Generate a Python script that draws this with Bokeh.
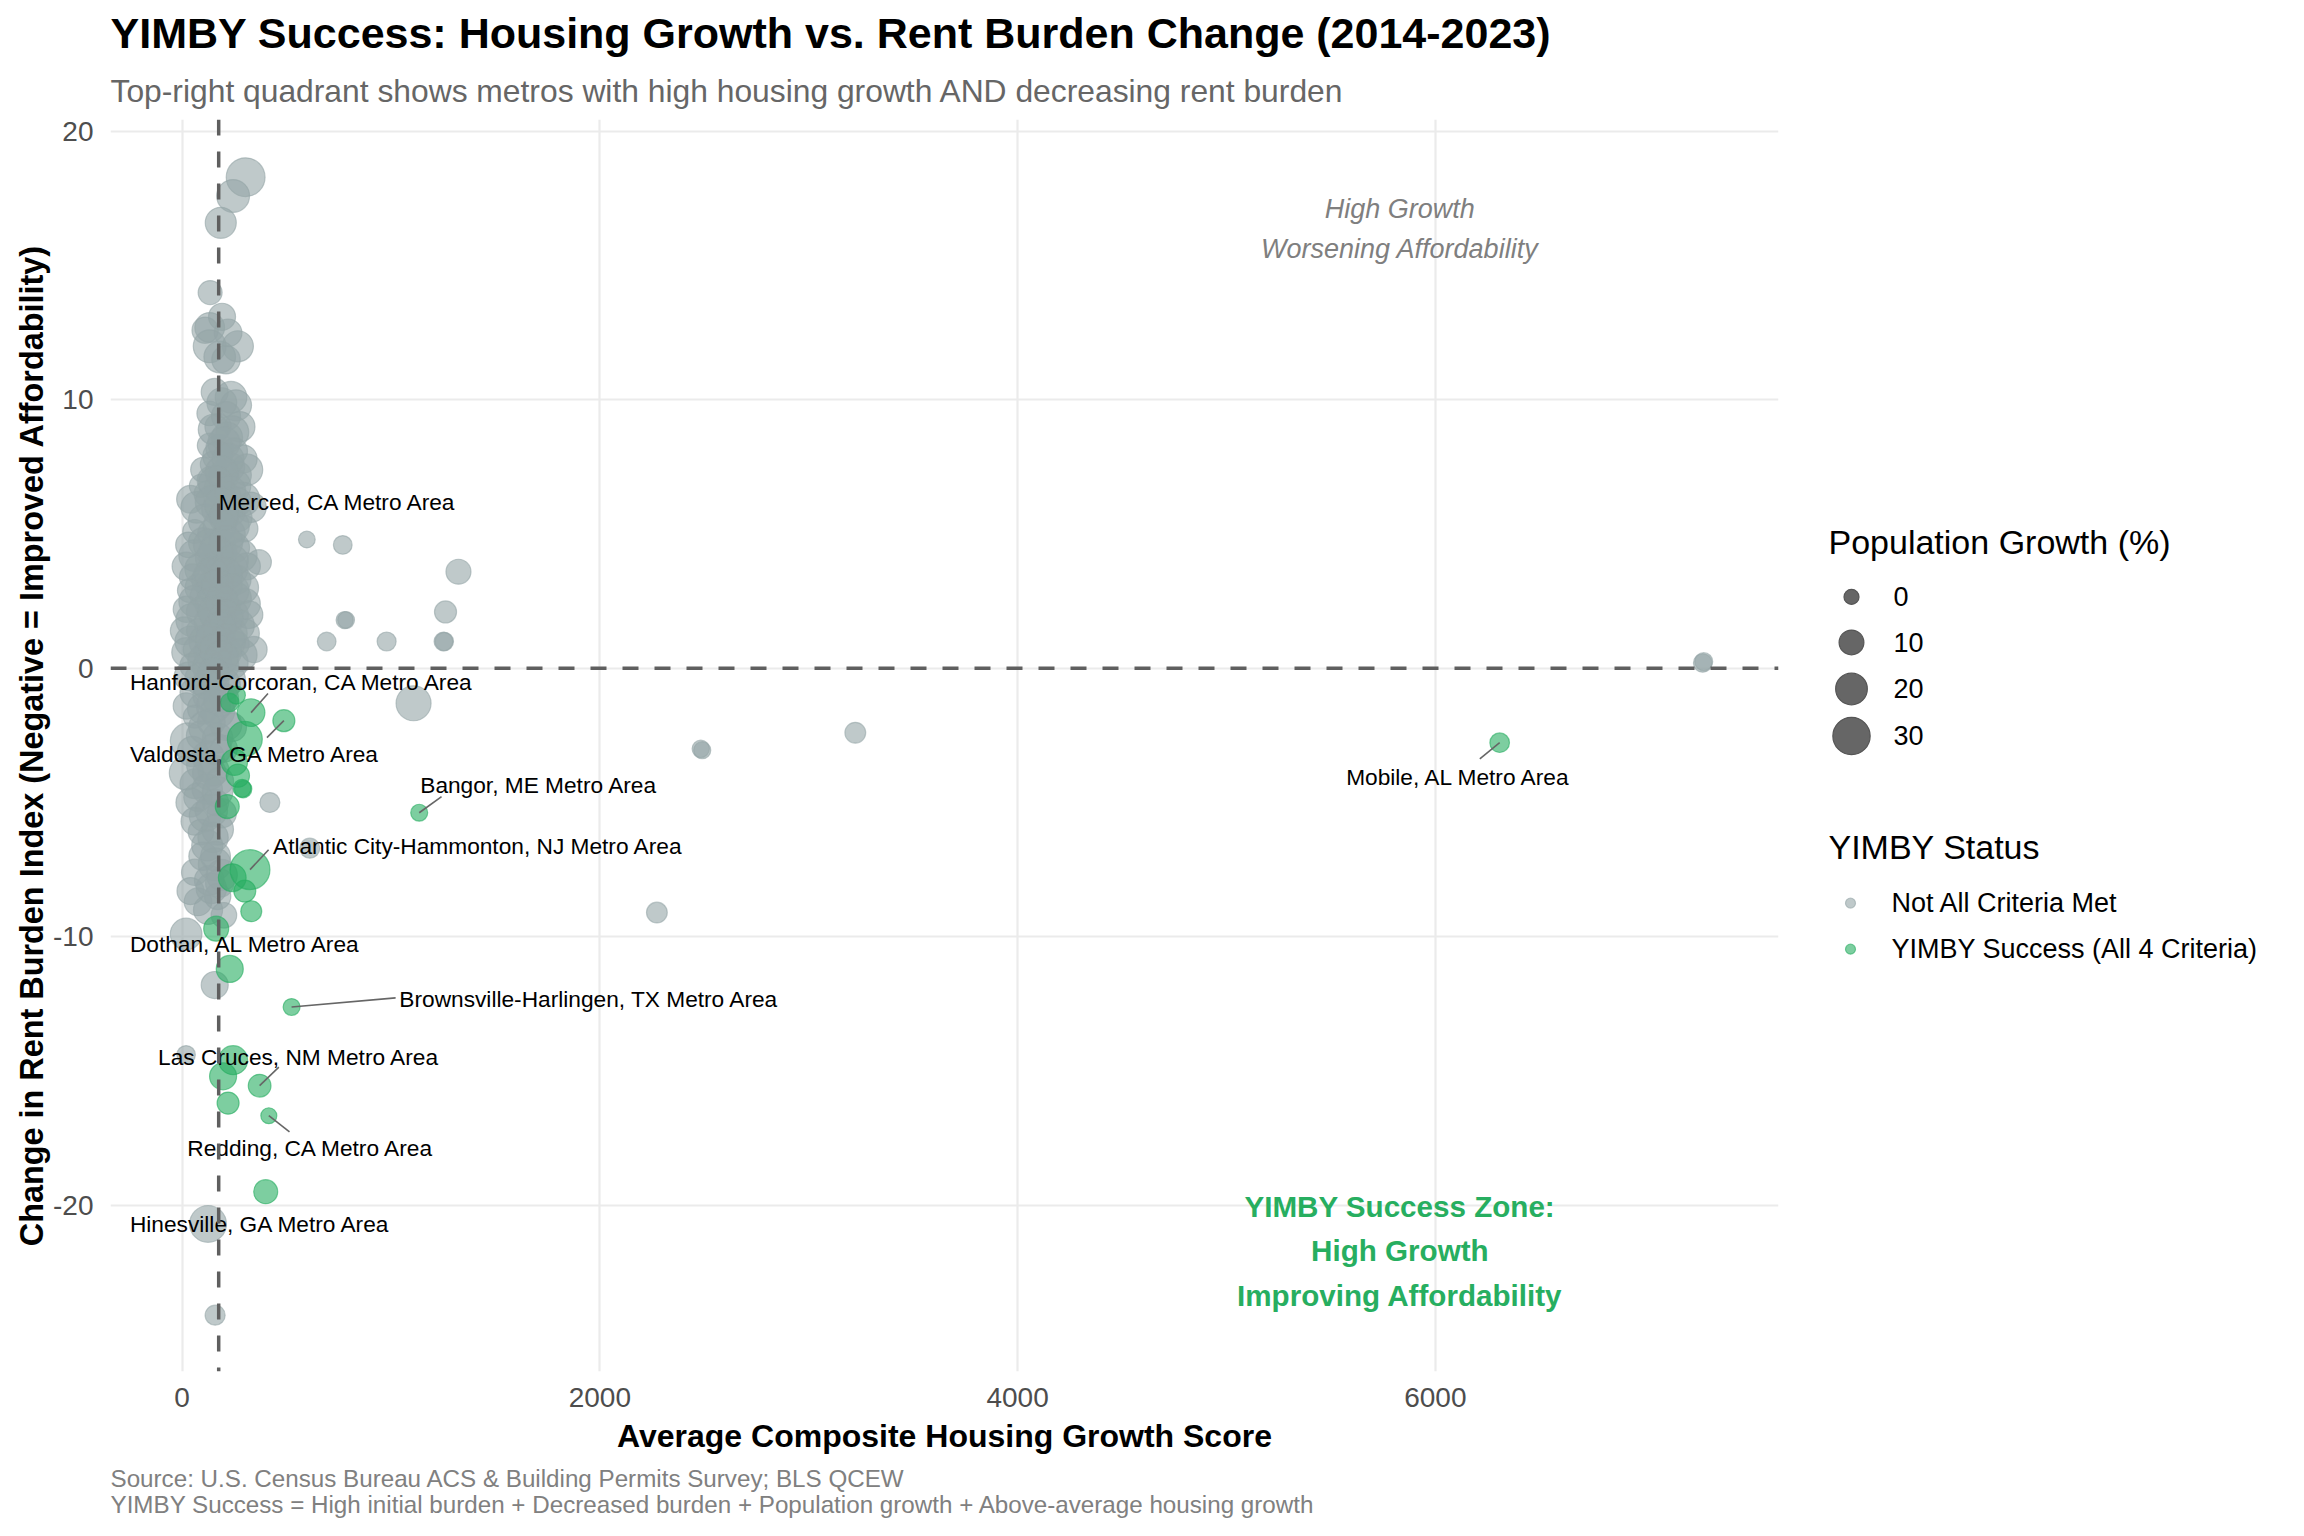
import math
from bokeh.plotting import figure
from bokeh.models import Range1d, FixedTicker, Span, ColumnDataSource, Title
from bokeh.layouts import row
from bokeh.embed import file_html
from bokeh.resources import INLINE
from bokeh.core.properties import value

FONT = "Liberation Sans"
GRAY = "#95A5A6"
GREEN = "#27AE60"

# ---------------- data ----------------
# metros that did not meet all criteria: housing growth score, change in rent burden, population growth %
gray_score = [304, 244, 185, 134, 191, 132, 110, 220, 132, 267, 180, 210,
              156, 234, 258, 190, 210, 130, 172, 276, 240, 132, 180, 215, 291, 250,
              150, 230, 100, 200, 265, 310, 140,
              90, 250, 180, 40, 120, 210, 290, 70, 160, 240, 330, 110, 200, 270, 60, 150, 225, 300,
              30, 100, 175, 250, 368, 60, 130, 200, 280, 20, 90, 160, 230, 310, 50, 120, 190, 260, 80, 150, 215, 290, 35,
              110, 180, 250, 60, 140, 210, 300, 20, 90, 170, 240, 320, 50, 130, 200, 270, 10, 80, 160, 230, 300, 40, 110, 190, 260,
              20, 70, 140, 210, 280, 344, 100, 170, 240, 50, 130, 200,
              30, 90, 160, 230, 61, 130, 200, 20, 100, 170, 61, 140, 210, 29, 90, 170, 124, 200, 50, 240,
              61, 76, 150, 100, 20, 180, 120, 40, 160, 61, 110, 190, 148, 90, 420,
              156, 100, 60, 130, 190, 76, 124, 170, 40, 19, 611, 200,
              156, 19, 158,
              150, 200, 170, 220, 190, 160, 230, 140, 190, 260, 180, 240, 130, 210, 160, 240, 180, 140, 210, 170,
              240, 190, 150, 210, 180, 140, 220, 160, 190, 150, 200, 120, 180, 150, 110, 160, 130, 170, 140, 170,
              120, 160, 140, 180,
              597, 769, 1323, 1261, 778, 785, 692, 979, 1251, 1255, 1108, 2483, 2490, 3223, 2273, 7280, 7285]
gray_burden = [18.3, 17.6, 16.6, 14.0, 13.1, 12.7, 12.6, 12.5, 12.0, 12.0, 11.6, 11.5,
               10.3, 10.1, 9.8, 9.9, 9.4, 9.5, 9.0, 9.0, 8.8, 8.3, 8.2, 8.6, 7.8, 8.1,
               7.6, 7.5, 7.4, 7.2, 7.2, 7.4, 7.0,
               6.8, 6.8, 6.7, 6.3, 6.5, 6.4, 6.3, 6.0, 5.9, 5.8, 6.0, 5.5, 5.6, 5.6, 5.1, 5.0, 5.0, 5.2,
               4.6, 4.7, 4.6, 4.5, 3.96, 4.2, 4.1, 4.3, 4.2, 3.8, 3.7, 3.8, 3.7, 3.8, 3.4, 3.3, 3.4, 3.3, 3.0, 3.0, 3.1, 3.0, 2.9,
               2.7, 2.7, 2.6, 2.5, 2.4, 2.3, 2.4, 2.2, 2.1, 2.0, 2.0, 2.0, 1.8, 1.7, 1.7, 1.6, 1.4, 1.4, 1.3, 1.3, 1.3, 1.0, 1.0, 1.0, 0.9,
               0.6, 0.7, 0.6, 0.6, 0.5, 0.7, 0.3, 0.3, 0.2, 0.1, 0.05, 0.1,
               -0.3, -0.4, -0.5, -0.4, -0.9, -1.0, -1.1, -1.4, -1.5, -1.6, -1.8, -2.0, -2.1, -2.7, -2.5, -2.6, -3.3, -3.0, -3.1, -2.2,
               -4.3, -4.8, -3.8, -3.6, -3.9, -4.2, -4.5, -5.0, -5.0, -5.7, -5.5, -5.4, -6.3, -6.1, -5.0,
               -7.3, -7.0, -7.6, -7.9, -7.7, -8.7, -9.0, -8.5, -8.3, -9.9, -6.7, -9.2,
               -11.8, -14.4, -24.1,
               8.9, 8.4, 7.9, 7.8, 7.3, 6.9, 6.6, 6.2, 6.1, 6.2, 5.3, 5.3, 4.6, 4.7, 4.3, 4.0, 3.6, 3.5, 3.5, 3.1,
               2.9, 2.5, 2.1, 1.9, 1.5, 1.1, 1.0, 0.7, 0.4, -0.2, -0.6, -0.6, -1.2, -1.4, -2.2, -3.0, -3.9, -4.6, -5.3, -6.0,
               -6.6, -7.0, -8.2, -8.0,
               4.8, 4.6, 3.6, 2.1, 1.8, 1.8, 1.0, 1.0, 1.0, 1.0, -1.3, -3.0, -3.05, -2.4, -9.1, 0.2, 0.25]
gray_pop = [33, 22, 19, 9, 13, 17, 12, 14, 22, 19, 20, 15,
            13, 20, 19, 17, 16, 10, 12, 18, 22, 10, 14, 19, 15, 12,
            12, 16, 10, 18, 14, 20, 15,
            8, 22, 19, 14, 12, 17, 24, 20, 14, 11, 18, 23, 16, 13, 9, 20, 21, 12,
            11, 16, 24, 18, 10, 20, 14, 12, 22, 15, 21, 17, 26, 13, 12, 19, 23, 16, 14, 25, 18, 20, 9,
            17, 13, 24, 20, 22, 15, 19, 12, 16, 26, 21, 14, 23, 18, 12, 20, 14, 10, 17, 24, 16, 19, 21, 15, 11,
            16, 13, 25, 19, 22, 12, 18, 14, 20, 11, 23, 17,
            15, 21, 13, 18, 17, 22, 16, 12, 19, 24, 8, 14, 20, 27, 16, 18, 21, 13, 18, 15,
            17, 15, 19, 22, 24, 14, 18, 16, 12, 14, 20, 16, 18, 11, 4.5,
            22, 15, 12, 17, 19, 14, 16, 12, 13, 20, 4.5, 11,
            13, 3, 4.5,
            18, 21, 17, 20, 22, 24, 19, 21, 25, 17, 22, 24, 20, 23, 25, 21, 19, 24, 22, 20,
            23, 21, 19, 24, 22, 20, 25, 21, 23, 20, 22, 18, 21, 24, 22, 20, 23, 18, 21, 20,
            19, 17, 18, 15,
            1.4, 3.2, 10.3, 6.7, 1.7, 1.5, 3.2, 3.5, 3.2, 3.0, 25.7, 1.9, 1.7, 5.3, 5.3, 3.0, 2.5]

# YIMBY success metros without a label
green_score = [300, 228, 260, 287, 292, 216, 267, 300, 331, 228, 244, 196, 220, 400, 250, 240]
green_burden = [-2.63, -1.27, -1.0, -4.47, -4.5, -5.15, -4.0, -8.3, -9.05, -11.2, -14.6, -15.2, -16.2, -19.5, -3.5, -7.8]
green_pop = [25.7, 3, 2.5, 2.5, 2.0, 9, 8, 6.7, 5.5, 13, 15.8, 13, 6.7, 9, 12, 14]

# labelled metros
lab_name = ["Merced, CA Metro Area", "Hanford-Corcoran, CA Metro Area", "Valdosta, GA Metro Area",
            "Bangor, ME Metro Area", "Atlantic City-Hammonton, NJ Metro Area", "Dothan, AL Metro Area",
            "Brownsville-Harlingen, TX Metro Area", "Las Cruces, NM Metro Area", "Redding, CA Metro Area",
            "Hinesville, GA Metro Area", "Mobile, AL Metro Area"]
lab_score = [200, 330, 487, 1135, 325, 163, 524, 371, 415, 124, 6308]
lab_burden = [5.7, -1.65, -1.95, -5.38, -7.5, -9.7, -12.62, -15.55, -16.67, -20.7, -2.77]
lab_pop = [16, 14, 6.7, 1.6, 35, 10.3, 1.6, 7.5, 0.8, 29, 4.1]
lab_yimby = [False, True, True, True, True, True, True, True, True, False, True]

mean_score = 175          # vertical reference line
size_breaks = [0, 10, 20, 30]
x_ticks = [0, 2000, 4000, 6000]
y_ticks = [-20, -10, 0, 10, 20]

# repelled label placement (data units): text anchor and segment end near the text
label_anchor = {
    "Merced, CA Metro Area": (175, 6.19, None),
    "Hanford-Corcoran, CA Metro Area": (-250, -0.52, (411, -0.94)),
    "Valdosta, GA Metro Area": (-250, -3.18, (406, -2.58)),
    "Bangor, ME Metro Area": (1140, -4.34, (1242, -4.78)),
    "Atlantic City-Hammonton, NJ Metro Area": (435, -6.61, (414, -6.76)),
    "Dothan, AL Metro Area": (-250, -10.26, None),
    "Brownsville-Harlingen, TX Metro Area": (1040, -12.32, (1022, -12.28)),
    "Las Cruces, NM Metro Area": (-115, -14.48, (463, -14.86)),
    "Redding, CA Metro Area": (25, -17.86, (514, -17.27)),
    "Hinesville, GA Metro Area": (-250, -20.7, None),
    "Mobile, AL Metro Area": (5573, -4.04, (6213, -3.37)),
}


def diam(pg):
    # area-proportional size scale (diameter in px)
    return math.sqrt(225 + 38.9 * pg)


H = 1528
TOP, BOTTOM = 119, 157

# ---------------- main plot ----------------
p = figure(width=1812, height=H, x_range=Range1d(-343, 7643), y_range=Range1d(-26.2, 20.45),
           output_backend="svg", toolbar_location=None,
           min_border_left=110, min_border_right=34, min_border_top=TOP, min_border_bottom=BOTTOM)
p.outline_line_color = None
p.background_fill_color = "white"
p.border_fill_color = "white"

p.xaxis.ticker = FixedTicker(ticks=x_ticks)
p.yaxis.ticker = FixedTicker(ticks=y_ticks)
p.yaxis.major_label_overrides = {t: str(t) for t in y_ticks}
for ax in (p.xaxis[0], p.yaxis[0]):
    ax.axis_line_color = None
    ax.major_tick_line_color = None
    ax.minor_tick_line_color = None
    ax.major_tick_out = 0
    ax.major_tick_in = 0
    ax.minor_tick_out = 0
    ax.minor_tick_in = 0
    ax.major_label_text_font = FONT
    ax.major_label_text_font_size = "28px"
    ax.major_label_text_color = "#4d4d4d"
    ax.axis_label_text_font = FONT
    ax.axis_label_text_font_style = "bold"
    ax.axis_label_text_color = "black"
p.xaxis.axis_label_text_font_size = "32px"
p.yaxis.axis_label_text_font_size = "32.4px"
p.xaxis.axis_label = "Average Composite Housing Growth Score"
p.yaxis.axis_label = "Change in Rent Burden Index (Negative = Improved Affordability)"
p.xaxis.major_label_standoff = 16
p.xaxis.axis_label_standoff = 8
p.yaxis.major_label_standoff = 17
p.yaxis.axis_label_standoff = 0

for g in (p.xgrid[0], p.ygrid[0]):
    g.grid_line_color = "#EBEBEB"
    g.grid_line_width = 2.2
    g.minor_grid_line_color = None

# titles (subtitle first: it sits next to the frame)
p.add_layout(Title(text="Top-right quadrant shows metros with high housing growth AND decreasing rent burden",
                   align="left", text_font=FONT, text_font_size="31.8px", text_font_style="normal",
                   text_color="#666666", standoff=22), "above")
p.add_layout(Title(text="YIMBY Success: Housing Growth vs. Rent Burden Change (2014-2023)",
                   align="left", text_font=FONT, text_font_size="43px", text_font_style="bold",
                   text_color="black", standoff=5), "above")
p.add_layout(Title(text="Source: U.S. Census Bureau ACS & Building Permits Survey; BLS QCEW\n"
                        "YIMBY Success = High initial burden + Decreased burden + Population growth + Above-average housing growth",
                   align="left", text_font=FONT, text_font_size="24.2px", text_font_style="normal",
                   text_color="#808080", text_line_height=0.98, standoff=14), "below")

# points
gsrc = ColumnDataSource(dict(x=gray_score, y=gray_burden, s=[diam(v) for v in gray_pop]))
p.scatter("x", "y", size="s", source=gsrc, marker="circle", fill_color=GRAY, fill_alpha=0.6,
          line_color=GRAY, line_alpha=0.6, line_width=1.2)
lg_gray = [i for i, f in enumerate(lab_yimby) if not f]
lg_green = [i for i, f in enumerate(lab_yimby) if f]
p.scatter([lab_score[i] for i in lg_gray], [lab_burden[i] for i in lg_gray],
          size=[diam(lab_pop[i]) for i in lg_gray], marker="circle", fill_color=GRAY, fill_alpha=0.6,
          line_color=GRAY, line_alpha=0.6, line_width=1.2)
grsrc = ColumnDataSource(dict(x=green_score + [lab_score[i] for i in lg_green],
                              y=green_burden + [lab_burden[i] for i in lg_green],
                              s=[diam(v) for v in green_pop] + [diam(lab_pop[i]) for i in lg_green]))
p.scatter("x", "y", size="s", source=grsrc, marker="circle", fill_color=GREEN, fill_alpha=0.6,
          line_color=GREEN, line_alpha=0.6, line_width=1.2)

# reference lines
p.add_layout(Span(location=mean_score, dimension="height", line_color="#5f5f5f",
                  line_width=3.5, line_dash="16 16"))
p.add_layout(Span(location=0, dimension="width", line_color="#5f5f5f",
                  line_width=3.5, line_dash="16 16"))

# repel segments and labels
sx0, sy0, sx1, sy1 = [], [], [], []
tx, ty, tt = [], [], []
for i, name in enumerate(lab_name):
    ax_, ay_, seg = label_anchor[name]
    tx.append(ax_); ty.append(ay_); tt.append(name)
    if seg is not None:
        sx0.append(seg[0]); sy0.append(seg[1]); sx1.append(lab_score[i]); sy1.append(lab_burden[i])
p.segment(sx0, sy0, sx1, sy1, line_color="#666666", line_width=1.6)
p.text(tx, ty, text=tt, text_font=value(FONT), text_font_size="22.7px", text_color="black",
       text_align="left", text_baseline="middle")

# quadrant annotations
p.text([5830, 5830], [17.1, 15.61], text=["High Growth", "Worsening Affordability"],
       text_font=value(FONT), text_font_size="27px", text_font_style="italic",
       text_color="#7f7f7f", text_align="center", text_baseline="middle")
p.text([5830, 5830, 5830], [-20.05, -21.7, -23.35],
       text=["YIMBY Success Zone:", "High Growth", "Improving Affordability"],
       text_font=value(FONT), text_font_size="29.6px", text_font_style="bold",
       text_color=GREEN, text_align="center", text_baseline="middle")

# ---------------- legend panel (its frame is aligned with the main frame: page px 120..1371) ----------------
lg = figure(width=476, height=H, x_range=Range1d(1820, 2296), y_range=Range1d(1371, 120),
            output_backend="svg", toolbar_location=None, x_axis_type=None, y_axis_type=None,
            min_border_left=0, min_border_right=0, min_border_top=TOP, min_border_bottom=BOTTOM)
lg.outline_line_color = None
lg.xgrid.visible = False
lg.ygrid.visible = False
lg.background_fill_color = "white"
lg.border_fill_color = "white"

lg.text([1836], [542], text=["Population Growth (%)"], text_font=value(FONT), text_font_size="34px",
        text_color="black", text_align="left", text_baseline="middle")
key_y = [597, 642.5, 689, 736]
lg.scatter([1859] * 4, key_y, size=[diam(v) for v in size_breaks], marker="circle",
           fill_color="#666666", line_color="#555555", line_width=1.2)
lg.text([1901] * 4, key_y, text=[str(v) for v in size_breaks], text_font=value(FONT), text_font_size="27px",
        text_color="black", text_align="left", text_baseline="middle")

lg.text([1836], [847], text=["YIMBY Status"], text_font=value(FONT), text_font_size="34px",
        text_color="black", text_align="left", text_baseline="middle")
lg.scatter([1858, 1858], [903, 949], size=10, marker="circle", fill_color=[GRAY, GREEN], fill_alpha=0.6,
           line_color=[GRAY, GREEN], line_alpha=0.6, line_width=1.2)
lg.text([1899, 1899], [903, 949], text=["Not All Criteria Met", "YIMBY Success (All 4 Criteria)"],
        text_font=value(FONT), text_font_size="27px", text_color="black",
        text_align="left", text_baseline="middle")

layout = row(p, lg)
open("out.html", "w").write(file_html(layout, INLINE))
